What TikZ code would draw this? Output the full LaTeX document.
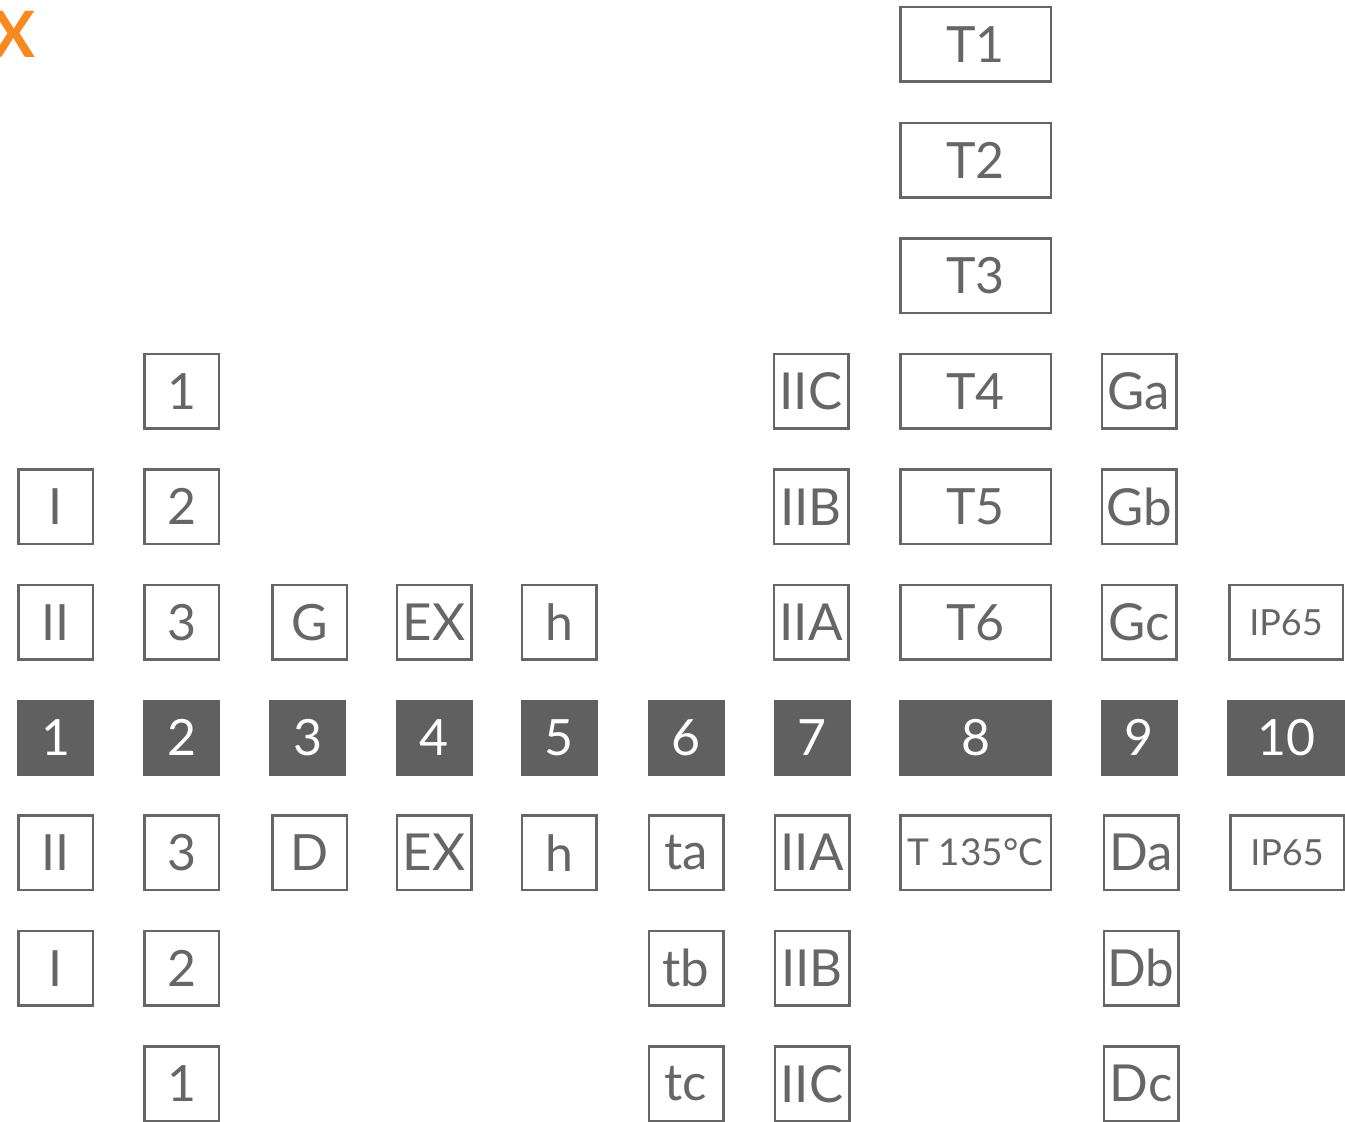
\documentclass[tikz,border=0pt]{standalone}
\usepackage{fontspec}
\setmainfont{Lato}
\usepackage{xcolor}
\usetikzlibrary{positioning}
\definecolor{boxgray}{HTML}{666666}
\definecolor{darkgray}{HTML}{606060}
\definecolor{logoorange}{HTML}{F7891E}

\begin{document}
\begin{tikzpicture}[
  x=1pt, y=-1pt,
  node distance=38.6pt,
  box/.style={draw=boxgray, line width=2.5pt, text=boxgray, inner sep=0pt,
              minimum width=74.5pt, minimum height=74.5pt,
              font=\fontsize{50}{50}\selectfont},
  bigtxt/.style={font=\fontsize{51}{51}\selectfont},
  tbox/.style={box, minimum width=150.5pt},
  ipbox/.style={box, minimum width=113.5pt, font=\fontsize{36}{36}\selectfont},
  darkbox/.style={fill=darkgray, text=white, inner sep=0pt, outer sep=0pt,
                  minimum width=77pt, minimum height=76pt,
                  font=\fontsize{50}{50}\selectfont}]
\useasboundingbox (0,0) rectangle (1345,1122);
% logo letter, cut by the page edge
\node[font=\fontsize{64}{64}\selectfont\bfseries, text=logoorange, inner sep=0pt,
      anchor=east] (logo) at (36,34) {X};
% middle row
\foreach \n/\x in {1/55.5,2/181.5,3/307.5,4/434,5/559,6/686,7/812,9/1139}
  \node[darkbox] (d\n) at (\x,737.5) {\n};
\node[darkbox, minimum width=153pt] (d8) at (975.5,737.5) {8};
\node[darkbox, minimum width=118pt] (d10) at (1286,737.5) {10};
% upper rows
\node[box, above=of d1] (u1a) {II};
\node[box, above=of u1a] (u1b) {I};
\node[box, above=of d2] (u2a) {3};
\node[box, above=of u2a] (u2b) {2};
\node[box, above=of u2b] (u2c) {1};
\node[box, above=of d3, xshift=2pt] (u3a) {G};
\node[box, bigtxt, above=of d4] (u4a) {EX};
\node[box, above=of d5] (u5a) {h};
\node[box, bigtxt, above=of d7, xshift=-1pt] (u7a) {IIA};
\node[box, bigtxt, above=of u7a] (u7b) {IIB};
\node[box, bigtxt, above=of u7b] (u7c) {IIC};
\node[tbox, above=of d8] (u8a) {T6};
\node[tbox, above=of u8a] (u8b) {T5};
\node[tbox, above=of u8b] (u8c) {T4};
\node[tbox, above=of u8c] (u8d) {T3};
\node[tbox, above=of u8d] (u8e) {T2};
\node[tbox, above=of u8e] (u8f) {T1};
\node[box, bigtxt, above=of d9] (u9a) {Gc};
\node[box, bigtxt, above=of u9a] (u9b) {Gb};
\node[box, bigtxt, above=of u9b] (u9c) {Ga};
\node[ipbox, above=of d10] (u10a) {IP65};
% lower rows
\node[box, below=of d1] (l1a) {II};
\node[box, below=of l1a] (l1b) {I};
\node[box, below=of d2] (l2a) {3};
\node[box, below=of l2a] (l2b) {2};
\node[box, below=of l2b] (l2c) {1};
\node[box, below=of d3, xshift=2pt] (l3a) {D};
\node[box, bigtxt, below=of d4] (l4a) {EX};
\node[box, below=of d5] (l5a) {h};
\node[box, bigtxt, below=of d6] (l6a) {ta};
\node[box, bigtxt, below=of l6a] (l6b) {tb};
\node[box, bigtxt, below=of l6b] (l6c) {tc};
\node[box, bigtxt, below=of d7] (l7a) {IIA};
\node[box, bigtxt, below=of l7a] (l7b) {IIB};
\node[box, bigtxt, below=of l7b] (l7c) {IIC};
\node[tbox, below=of d8, font=\fontsize{37}{37}\selectfont] (l8a) {T 135°C};
\node[box, bigtxt, below=of d9, xshift=2pt] (l9a) {Da};
\node[box, bigtxt, below=of l9a] (l9b) {Db};
\node[box, bigtxt, below=of l9b] (l9c) {Dc};
\node[ipbox, below=of d10, xshift=1pt] (l10a) {IP65};
\end{tikzpicture}
\end{document}
